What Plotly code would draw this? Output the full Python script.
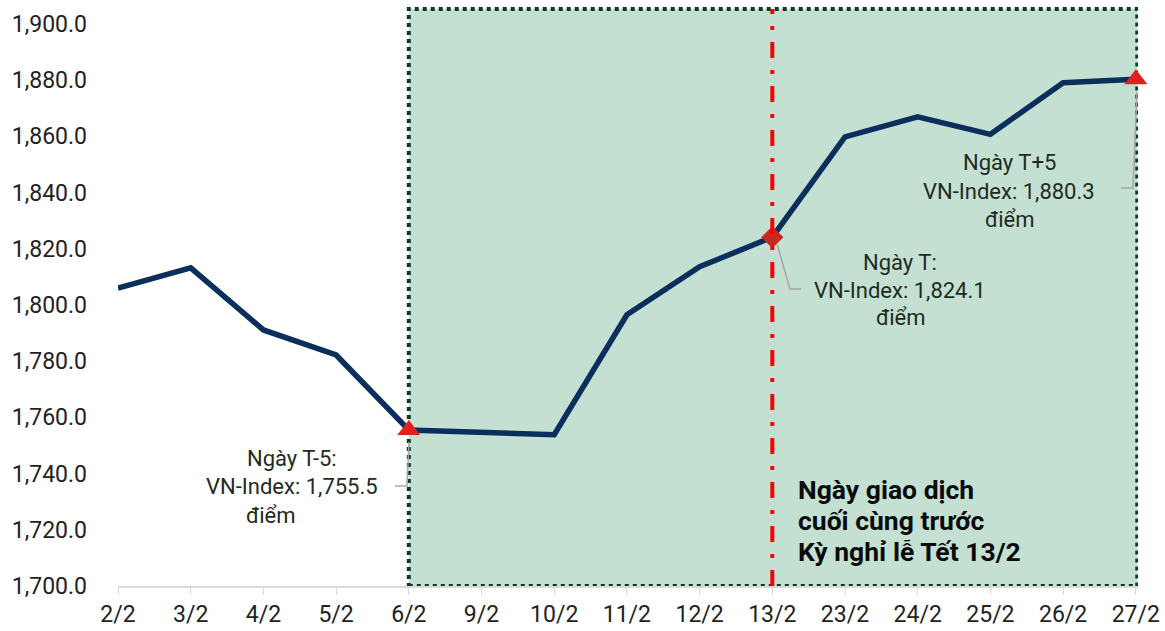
import plotly.graph_objects as go

categories = ["2/2", "3/2", "4/2", "5/2", "6/2", "9/2", "10/2", "11/2", "12/2",
              "13/2", "23/2", "24/2", "25/2", "26/2", "27/2"]
vn_index = [1806.0, 1813.2, 1791.1, 1782.2, 1755.5, 1754.8, 1753.8, 1796.5, 1813.6,
            1824.1, 1859.8, 1866.9, 1860.7, 1879.1, 1880.3]
y_ticks = [1700, 1720, 1740, 1760, 1780, 1800, 1820, 1840, 1860, 1880, 1900]
triangle_idx = [4, 14]
diamond_idx = [9]
shade_start, shade_end = 4, 14
event_idx = 9

W, H = 1165, 631
SL, SR, ST, SB = 118, 1138, 9, 586   # plot area in pixels
L, R, T, B = SL, W - SR, ST, H - SB
pw, ph = SR - SL, SB - ST


def px(x):
    return (x - SL) / pw


def py(y):
    return (SB - y) / ph


fig = go.Figure()

fig.add_trace(go.Scatter(
    x=categories, y=vn_index, mode="lines",
    line=dict(color="#0a2f5c", width=5.5), hoverinfo="skip", showlegend=False))

fig.add_trace(go.Scatter(
    x=[categories[i] for i in triangle_idx], y=[vn_index[i] for i in triangle_idx],
    mode="markers", marker=dict(symbol="triangle-up", size=20, color="#e3201b"),
    showlegend=False, cliponaxis=False))
fig.add_trace(go.Scatter(
    x=[categories[i] for i in diamond_idx], y=[vn_index[i] for i in diamond_idx],
    mode="markers", marker=dict(symbol="diamond", size=17, color="#c62a1f"),
    showlegend=False, cliponaxis=False))

# shaded region
fig.add_shape(type="rect", xref="x", yref="paper", x0=shade_start, x1=shade_end + 0.02,
              y0=0, y1=1, fillcolor="#c4e0d2", layer="below",
              line=dict(color="#0b3d22", width=4, dash="4px,4px"))
# event line
fig.add_shape(type="line", xref="x", yref="paper", x0=event_idx, x1=event_idx,
              y0=0, y1=1, layer="above",
              line=dict(color="#ff0000", width=4, dash="16px,12px,4px,12px"))


def leader(points):
    d = "M " + " L ".join(f"{px(a):.5f} {py(b):.5f}" for a, b in points)
    fig.add_shape(type="path", xref="paper", yref="paper", path=d,
                  line=dict(color="#a6a6a6", width=1.5), layer="below")

leader([(409, 442), (407, 486), (395, 486)])
leader([(777, 244), (790, 289), (801, 289)])
leader([(1137, 92), (1133, 188), (1121, 188)])


def text_lines(lines, cxs, ys, size=22, color="#1e2b22", bold=False, anchor="center"):
    for t, cx, yy in zip(lines, cxs, ys):
        fig.add_annotation(xref="paper", yref="paper", x=px(cx), y=py(yy),
                           text=f"<b>{t}</b>" if bold else t, showarrow=False,
                           xanchor=anchor, yanchor="middle",
                           font=dict(family="Roboto", size=size, color=color))

text_lines(["Ngày T-5:", "VN-Index: 1,755.5", "điểm"], [292, 292, 270], [458, 486, 515])
text_lines(["Ngày T:", "VN-Index: 1,824.1", "điểm"], [900] * 3, [262, 290, 318])
text_lines(["Ngày T+5", "VN-Index: 1,880.3", "điểm"], [1009] * 3, [162, 191, 219])
text_lines(["Ngày giao dịch", "cuối cùng trước", "Kỳ nghỉ lễ Tết 13/2"], [796] * 3,
           [489, 520, 551], size=26.5, color="#0a0a0a", bold=True, anchor="left")

fig.update_layout(
    width=W, height=H, margin=dict(l=L, r=R, t=T, b=B, autoexpand=False),
    paper_bgcolor="white", plot_bgcolor="white",
    font=dict(family="Roboto", size=23, color="#222222"),
    xaxis=dict(type="category", range=[0, len(categories) - 1 + 0.03],
               automargin=False,
               showgrid=False, zeroline=False, showline=True, linecolor="#d9d9d9",
               linewidth=1.5, ticks="outside", ticklen=7, tickcolor="#d9d9d9",
               tickfont=dict(size=23, color="#222222")),
    yaxis=dict(range=[1700, 1905.3], tickvals=y_ticks, tickformat=",.1f",
               automargin=False,
               showgrid=False, zeroline=False, showline=False,
               ticklabelstandoff=30, tickfont=dict(size=23, color="#222222")),
)

fig.write_html("out.html", config={"displayModeBar": False},
               post_script="document.body.style.margin='0';document.body.style.overflow='hidden';")
